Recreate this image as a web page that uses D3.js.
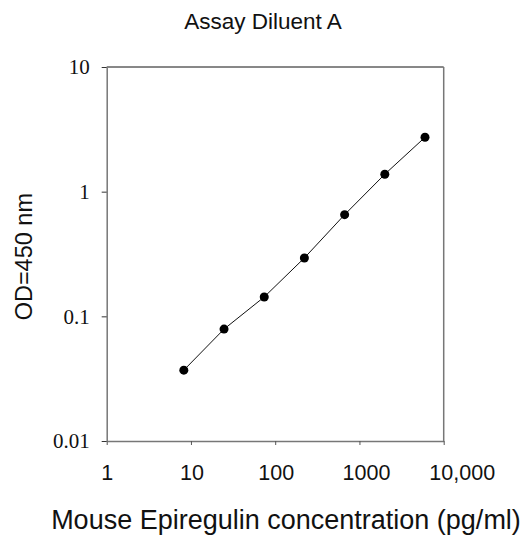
<!DOCTYPE html>
<html><head><meta charset="utf-8">
<script src="https://cdn.jsdelivr.net/npm/d3@7"></script>
<style>body{margin:0;background:#fff}</style>
</head><body>
<svg id="c" width="521" height="542"></svg>
<script>
const concentrations = [8.23, 24.7, 74.1, 222, 667, 2000, 6000];
const odValues = [0.037, 0.079, 0.143, 0.294, 0.654, 1.38, 2.73];
const xTicks = [1, 10, 100, 1000, 10000];
const xTickLabels = ["1", "10", "100", "1000", "10,000"];
const yTicks = [0.01, 0.1, 1, 10];
const yTickLabels = ["0.01", "0.1", "1", "10"];
const title = "Assay Diluent A";
const xTitle = "Mouse Epiregulin concentration (pg/ml)";
const yTitle = "OD=450 nm";

// layout (label nudges as in the original)
const xLabelShift = [0, 0.5, 0.5, 6.5, 18];

const svg = d3.select("#c");
const L = 106.7, R = 443.7, T = 67, B = 441;
const x = d3.scaleLog().domain([1, 10000]).range([L, R]);
const y = d3.scaleLog().domain([0.01, 10]).range([B, T]);

// frame
svg.append("line").attr("x1", L).attr("x2", R).attr("y1", T).attr("y2", T).attr("stroke", "#111").attr("stroke-width", 1);
svg.append("line").attr("x1", R).attr("x2", R).attr("y1", T).attr("y2", B).attr("stroke", "#777").attr("stroke-width", 1.5);

const xAxis = svg.append("g").attr("transform", `translate(0,${B})`)
  .call(d3.axisBottom(x).tickValues(xTicks).tickSize(4).tickSizeOuter(0).tickFormat((d, i) => xTickLabels[i]));
xAxis.select(".domain").attr("stroke", "#777").attr("stroke-width", 1.5);
xAxis.selectAll(".tick line").attr("stroke", "#555");
xAxis.selectAll(".tick text").attr("font-family", "Liberation Sans, Arial, sans-serif").attr("font-size", 21.5).attr("fill", "#111")
  .attr("dy", null).attr("y", 39).attr("x", (d, i) => xLabelShift[i]);

const yAxis = svg.append("g").attr("transform", `translate(${L},0)`)
  .call(d3.axisLeft(y).tickValues(yTicks).tickSize(5).tickSizeOuter(0).tickFormat((d, i) => yTickLabels[i]));
yAxis.select(".domain").attr("stroke", "#777").attr("stroke-width", 1.5);
yAxis.selectAll(".tick line").attr("stroke", "#333");
yAxis.selectAll(".tick text").attr("font-family", "Liberation Serif, Times New Roman, serif").attr("font-size", 21).attr("fill", "#111").attr("x", -17);

const pts = concentrations.map((c, i) => [c, odValues[i]]);
svg.append("path").datum(pts)
  .attr("d", d3.line().x(d => x(d[0])).y(d => y(d[1])))
  .attr("fill", "none").attr("stroke", "#111").attr("stroke-width", 1);
svg.selectAll("circle.p").data(pts).enter().append("circle")
  .attr("cx", d => x(d[0])).attr("cy", d => y(d[1])).attr("r", 4.5).attr("fill", "#000");

svg.append("text").attr("x", 263).attr("y", 28.5).attr("text-anchor", "middle")
  .attr("font-family", "Liberation Sans, Arial, sans-serif").attr("font-size", 22.5).attr("fill", "#111").text(title);
svg.append("text").attr("x", 286).attr("y", 528.5).attr("text-anchor", "middle")
  .attr("font-family", "Liberation Sans, Arial, sans-serif").attr("font-size", 27).attr("fill", "#111").text(xTitle);
svg.append("text").attr("transform", "translate(31.5,256.7) rotate(-90)").attr("text-anchor", "middle")
  .attr("font-family", "Liberation Sans, Arial, sans-serif").attr("font-size", 23.5).attr("fill", "#111").text(yTitle);
</script>
</body></html>
